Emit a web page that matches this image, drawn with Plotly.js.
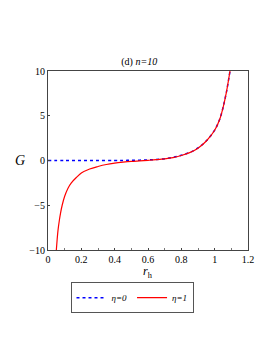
<!DOCTYPE html>
<html><head><meta charset="utf-8">
<script src="https://cdn.plot.ly/plotly-3.0.1.min.js"></script>
<style>html,body{margin:0;padding:0;background:#fff}#c{width:273px;height:353px}</style>
</head><body><div id="c"></div>
<script>
const rEta0 = [0, 0.1, 0.2, 0.3, 0.4, 0.45, 0.5, 0.55, 0.6, 0.65, 0.7, 0.75, 0.8, 0.85, 0.9, 0.95, 1.0, 1.03, 1.05, 1.07, 1.092];
const gEta0 = [0, 0, 0, 0, 0.005, 0.01, 0.02, 0.04, 0.07, 0.12, 0.2, 0.34, 0.58, 0.9, 1.4, 2.2, 3.4, 4.6, 5.9, 7.6, 10];
const rEta1 = [0.05, 0.055, 0.06, 0.068, 0.075, 0.085, 0.1, 0.12, 0.14, 0.17, 0.2, 0.25, 0.3, 0.35, 0.4, 0.45, 0.5, 0.55, 0.6, 0.65, 0.7, 0.75, 0.8, 0.85, 0.9, 0.95, 1.0, 1.03, 1.05, 1.07, 1.092];
const gEta1 = [-10, -8.8, -7.8, -6.7, -5.9, -5.0, -4.0, -3.1, -2.5, -1.9, -1.4, -0.95, -0.67, -0.45, -0.3, -0.19, -0.1, -0.04, 0.02, 0.09, 0.18, 0.32, 0.56, 0.88, 1.38, 2.18, 3.38, 4.58, 5.88, 7.58, 10];
const xTicks = [0, 0.2, 0.4, 0.6, 0.8, 1, 1.2];
const xTickText = ['0', '0.2', '0.4', '0.6', '0.8', '1', '1.2'];
const yTicks = [-10, -5, 0, 5, 10];
const yTickText = ['\u221210', '\u22125', '0', '5', '10'];

const serif = 'Times New Roman, Liberation Serif, serif';
const traces = [
  {x: rEta0, y: gEta0, mode: 'lines', name: '<i>\u03b7=0</i>', line: {color: '#0000ff', dash: 'dot', width: 1.5, shape: 'spline'}},
  {x: rEta1, y: gEta1, mode: 'lines', name: '<i>\u03b7=1</i>', line: {color: '#ff0000', width: 1.2, shape: 'spline'}}
];
const layout = {
  width: 273, height: 353,
  margin: {l: 48, r: 25, t: 71, b: 103},
  paper_bgcolor: '#fff', plot_bgcolor: '#fff',
  font: {family: serif, size: 10, color: '#000'},
  title: {text: '(d) <i>n=10</i>', font: {family: serif, size: 10, color: '#000'}, x: 0.51, xanchor: 'center', y: 0.827, yanchor: 'middle'},
  xaxis: {range: [0, 1.2], tickvals: xTicks, ticktext: xTickText, showgrid: false, zeroline: false,
          showline: true, linecolor: '#444', linewidth: 1, mirror: true, ticks: 'inside', ticklen: 2, tickcolor: '#444',
          minor: {dtick: 0.1, ticks: 'inside', ticklen: 2, tickcolor: '#777'}, tickfont: {family: serif, size: 10}},
  yaxis: {range: [-10, 10], tickvals: yTicks, ticktext: yTickText, showgrid: false, zeroline: false,
          showline: true, linecolor: '#444', linewidth: 1, mirror: true, ticks: 'inside', ticklen: 2, tickcolor: '#444',
          tickfont: {family: serif, size: 10}},
  showlegend: true,
  legend: {orientation: 'h', x: 0.42, xanchor: 'center', y: -0.18, yanchor: 'top',
           bordercolor: '#555', borderwidth: 1, font: {family: serif, size: 9}, itemwidth: 30, tracegroupgap: 0},
  annotations: [
    {text: '<i>r</i><sub>h</sub>', xref: 'paper', yref: 'paper', x: 0.5, y: -0.125, xanchor: 'center', yanchor: 'middle', showarrow: false, font: {family: serif, size: 12}},
    {text: '<i>G</i>', xref: 'paper', yref: 'paper', x: -0.14, y: 0.5, xanchor: 'center', yanchor: 'middle', showarrow: false, font: {family: serif, size: 14}}
  ]
};
Plotly.newPlot('c', traces, layout, {displayModeBar: false, staticPlot: true});
</script></body></html>
